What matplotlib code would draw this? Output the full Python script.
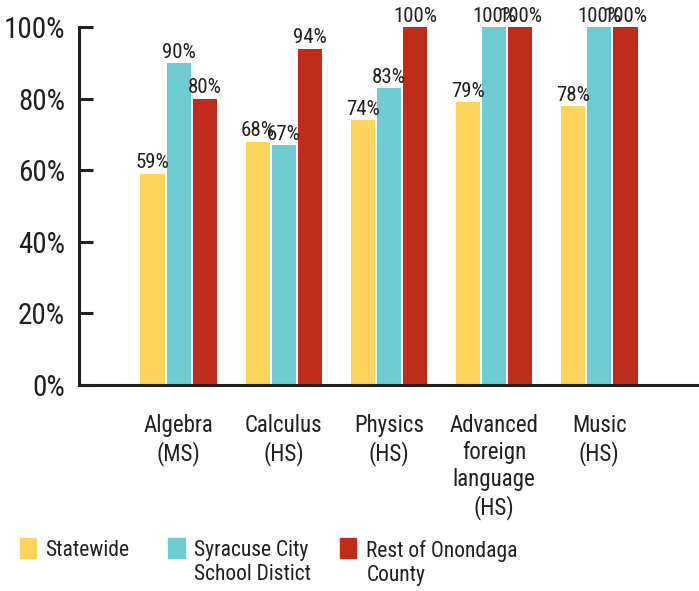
import matplotlib.pyplot as plt
from matplotlib import font_manager
from matplotlib.patches import Rectangle
import numpy as np

# pick a narrow font if one is installed
fonts = font_manager.fontManager.ttflist
narrow = None
for f in fonts:
    if f.name in ("Liberation Sans Narrow", "Roboto Condensed", "Open Sans Condensed"):
        narrow = (f.name, "normal")
        break
if narrow is None and any(f.name == "DejaVu Sans" and f.stretch in ("condensed", 87.5)
                          for f in fonts):
    narrow = ("DejaVu Sans", "condensed")

if narrow:
    plt.rcParams['font.family'] = [narrow[0], 'DejaVu Sans']
    plt.rcParams['font.stretch'] = narrow[1]
    scale = 1.0
else:
    plt.rcParams['font.family'] = ['DejaVu Sans']
    scale = 0.78

# subjects on the x axis
categories = ["Algebra\n(MS)", "Calculus\n(HS)", "Physics\n(HS)",
              "Advanced\nforeign\nlanguage\n(HS)", "Music\n(HS)"]

# percent of schools offering the course
statewide = [59, 68, 74, 79, 78]
syracuse = [90, 67, 83, 100, 100]
rest_onondaga = [80, 94, 100, 100, 100]

series_names = ["Statewide", "Syracuse City\nSchool Distict", "Rest of Onondaga\nCounty"]
colors = ["#FED45A", "#6ECBD1", "#BF2C1A"]
ink = "#231F20"

fig = plt.figure(figsize=(6.99, 5.91), dpi=100)
ax = fig.add_axes([0.113, 0.3486, 0.887, 0.6054])

x = np.arange(len(categories))
width = 0.23
step = 0.25
for i, (vals, col) in enumerate(zip([statewide, syracuse, rest_onondaga], colors)):
    bars = ax.bar(x + (i - 1) * step, vals, width, color=col, zorder=2)
    ax.bar_label(bars, labels=[f"{v}%" for v in vals], padding=1,
                 fontsize=15 * scale, color=ink)

ax.set_xlim(-0.95, 4.95)
ax.set_ylim(0, 100)
ax.set_yticks([0, 20, 40, 60, 80, 100])
ax.set_yticklabels([f"{t}%" for t in range(0, 101, 20)])
ax.set_xticks(x)
ax.set_xticklabels(categories, fontsize=16.5 * scale, color=ink, linespacing=1.22)

for s in ["top", "right"]:
    ax.spines[s].set_visible(False)
for s in ["left", "bottom"]:
    ax.spines[s].set_linewidth(2.2)
    ax.spines[s].set_color(ink)
ax.spines["bottom"].set_zorder(3)

ax.tick_params(axis="y", direction="in", length=10, width=2.2, color=ink,
               labelsize=21 * scale, labelcolor=ink, pad=10)
ax.tick_params(axis="x", length=0, pad=21)

# legend drawn along the bottom
leg_x = [0.028, 0.241, 0.487]
for lx, name, col in zip(leg_x, series_names, colors):
    fig.add_artist(Rectangle((lx, 0.055), 0.023, 0.035, color=col,
                             transform=fig.transFigure))
    fig.text(lx + 0.037, 0.087, name, fontsize=15.5 * scale, color=ink,
             va="top", ha="left", linespacing=1.22)

plt.savefig("out.png", dpi=100)
